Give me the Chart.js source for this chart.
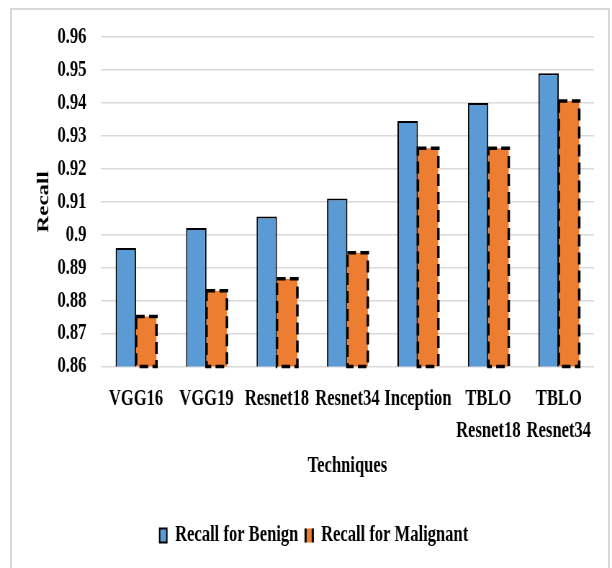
<!DOCTYPE html>
<html>
<head>
<meta charset="utf-8">
<script src="https://cdn.jsdelivr.net/npm/chart.js@4"></script>
<style>
  html, body { margin: 0; padding: 0; background: #fff; }
  body { width: 612px; height: 568px; position: relative; overflow: hidden; }
  .frame { position: absolute; left: 10px; top: 8px; width: 596px; height: 580px; border: 2px solid #d9d9d9; }
  #recallChart { position: absolute; left: 0; top: 0; transform: scaleX(0.72); transform-origin: 0 0; }
</style>
</head>
<body>
<div class="frame"></div>
<canvas id="recallChart" width="850" height="568"></canvas>
<script>
const techniques = ['VGG16', 'VGG19', 'Resnet18', 'Resnet34', 'Inception', ['TBLO', 'Resnet18'], ['TBLO', 'Resnet34']];
const benignRecall = [0.896, 0.902, 0.9055, 0.911, 0.9345, 0.94, 0.949];
const malignantRecall = [0.8752, 0.883, 0.8866, 0.8945, 0.9262, 0.9262, 0.9406];
const yMin = 0.86;
const yMax = 0.96;
const yStep = 0.01;

const serif = "'Liberation Serif', 'Times New Roman', serif";

// bars in Chart.js can't take borderDash, so stroke the outline ourselves
const dashedOutline = {
    id: 'dashedOutline',
    afterDatasetsDraw(chart) {
        const ctx = chart.ctx;
        const bottom = chart.chartArea.bottom;
        chart.data.datasets.forEach((ds, i) => {
            if (!ds.dashOutline) return;
            const meta = chart.getDatasetMeta(i);
            ctx.save();
            ctx.strokeStyle = '#000';
            ctx.lineWidth = 3.5;
            ctx.setLineDash([12, 6]);
            meta.data.forEach(bar => {
                const { x, y, width, base } = bar.getProps(['x', 'y', 'width', 'base'], true);
                const b = Math.min(base, bottom);
                ctx.strokeRect(x - width / 2, y, width, b - y);
            });
            ctx.restore();
        });
    }
};

new Chart(document.getElementById('recallChart'), {
    type: 'bar',
    data: {
        labels: techniques,
        datasets: [{
            label: 'Recall for Benign',
            data: benignRecall,
            backgroundColor: '#5B9BD5',
            borderColor: '#000',
            borderWidth: 2,
            categoryPercentage: 0.58,
            barPercentage: 1
        }, {
            label: 'Recall for Malignant',
            data: malignantRecall,
            backgroundColor: '#ED7D31',
            borderWidth: 0,
            dashOutline: true,
            categoryPercentage: 0.58,
            barPercentage: 1
        }]
    },
    options: {
        responsive: false,
        animation: false,
        layout: { padding: { left: 47, right: 25, top: 37, bottom: 11 } },
        plugins: {
            legend: {
                position: 'bottom',
                labels: {
                    color: '#000',
                    font: { family: serif, size: 23, weight: 'bold' },
                    boxWidth: 10,
                    boxHeight: 14,
                    padding: 10,
                    generateLabels(chart) {
                        const items = Chart.defaults.plugins.legend.labels.generateLabels(chart);
                        items.forEach(it => { it.strokeStyle = '#000'; it.lineWidth = 2; });
                        items[1].lineWidth = 3;
                        items[1].lineDash = [0, 10, 14, 10, 14];
                        return items;
                    }
                }
            },
            tooltip: { enabled: false }
        },
        scales: {
            x: {
                grid: { display: false },
                border: { display: false },
                ticks: {
                    color: '#000',
                    font: { family: serif, size: 23, weight: 'bold', lineHeight: 1.39 },
                    padding: 9,
                    maxRotation: 0,
                    autoSkip: false
                },
                title: {
                    display: true,
                    text: 'Techniques',
                    color: '#000',
                    font: { family: serif, size: 23, weight: 'bold' },
                    padding: { top: 0, bottom: 34 }
                },
                afterFit(scale) { scale.height = 147.5; }
            },
            y: {
                min: yMin,
                max: yMax,
                ticks: {
                    stepSize: yStep,
                    color: '#000',
                    font: { family: serif, size: 23, weight: 'bold' },
                    padding: 20,
                    callback: v => String(+v.toFixed(2))
                },
                grid: { color: '#d9d9d9', lineWidth: 1.5, drawTicks: false },
                border: { display: false },
                title: {
                    display: true,
                    text: 'Recall',
                    color: '#000',
                    font: { family: serif, size: 23, weight: 'bold' },
                    padding: { top: 0, bottom: 0 }
                },
                afterFit(scale) { scale.width = 93; }
            }
        }
    },
    plugins: [dashedOutline]
});
</script>
</body>
</html>
